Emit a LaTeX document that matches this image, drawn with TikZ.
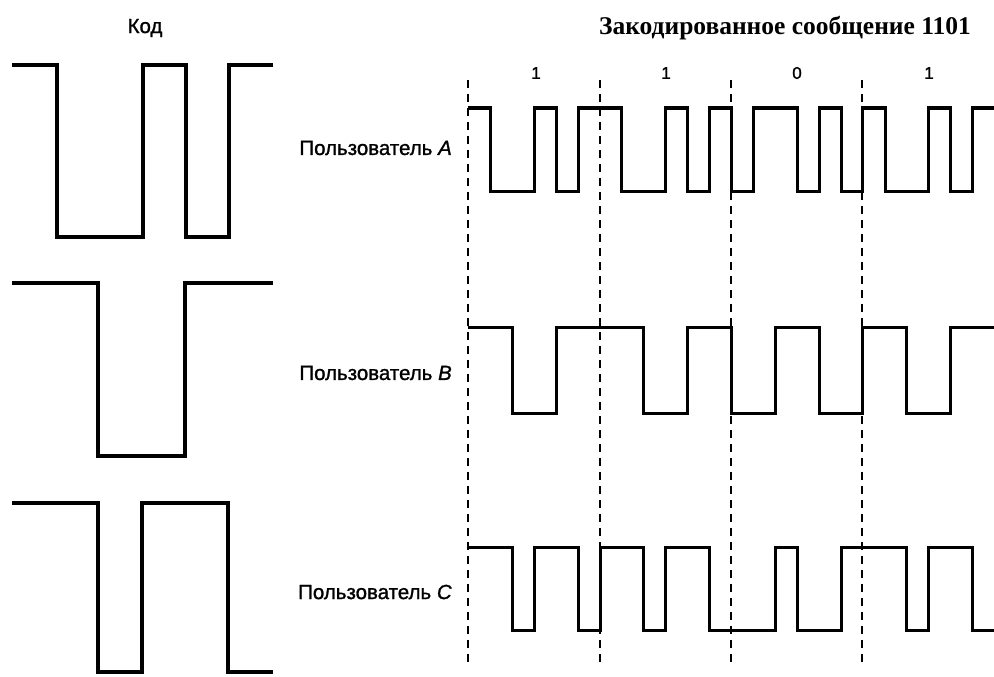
\documentclass[tikz,border=0pt]{standalone}
\usepackage{fontspec}
\setmainfont{Liberation Serif}
\newfontfamily\labfont[FakeBold=1.2]{Liberation Sans}
\begin{document}
\begin{tikzpicture}[x=1pt,y=-1pt,
  wave/.style={line width=3pt, line join=miter},
  codewave/.style={line width=3.4pt, line join=miter},
  sep/.style={line width=2pt, dash pattern=on 8pt off 6pt},
  lbl/.style={font=\labfont\fontsize{20.5}{24}\selectfont, inner sep=0pt},
  bitlbl/.style={font=\labfont\fontsize{17}{20}\selectfont, inner sep=0pt},
  ttl/.style={font=\bfseries\fontsize{25.5}{28}\selectfont, inner sep=0pt}]
\useasboundingbox (0,0) rectangle (994,677);
% titles
\node[lbl] (kod) at (145,28) {Код};
\node[ttl] (title) at (785,28) {Закодированное сообщение 1101};
% bit labels
\node[bitlbl] (bit1) at (536,73) {1};
\node[bitlbl] (bit2) at (666,73) {1};
\node[bitlbl] (bit3) at (797,73) {0};
\node[bitlbl] (bit4) at (929,73) {1};
% user labels
\node[lbl, anchor=east] (lblA) at (452,148) {Пользователь \textit{A}};
\node[lbl, anchor=east] (lblB) at (452,373) {Пользователь \textit{B}};
\node[lbl, anchor=east] (lblC) at (452,592) {Пользователь \textit{C}};
% codes
\draw[codewave] (12,65) -- (57,65) -- (57,237) -- (143,237) -- (143,65) -- (186,65) -- (186,237) -- (229,237) -- (229,65) -- (273,65);
\draw[codewave] (12,283) -- (98,283) -- (98,456) -- (185,456) -- (185,283) -- (273,283);
\draw[codewave] (12,503) -- (98,503) -- (98,672) -- (142,672) -- (142,503) -- (228,503) -- (228,672) -- (273,672);
% bit separators
\foreach \xx in {468,600,731,862}
  \draw[sep] (\xx,80) -- (\xx,665);
% user A
\draw[wave] (468,108) -- (490,108) -- (490,191) -- (534,191) -- (534,108) -- (556,108) -- (556,191) -- (578,191) -- (578,108) -- (621,108) -- (621,191) -- (665,191) -- (665,108) -- (687,108) -- (687,191) -- (709,191) -- (709,108) -- (731,108) -- (731,191) -- (753,191) -- (753,108) -- (797,108) -- (797,191) -- (819,191) -- (819,108) -- (841,108) -- (841,191) -- (862,191) -- (862,108) -- (885,108) -- (885,191) -- (928,191) -- (928,108) -- (950,108) -- (950,191) -- (972,191) -- (972,108) -- (994,108);
% user B
\draw[wave] (468,327) -- (512,327) -- (512,413) -- (556,413) -- (556,327) -- (643,327) -- (643,413) -- (687,413) -- (687,327) -- (731,327) -- (731,413) -- (775,413) -- (775,327) -- (819,327) -- (819,413) -- (862,413) -- (862,327) -- (906,327) -- (906,413) -- (950,413) -- (950,327) -- (994,327);
% user C
\draw[wave] (468,547) -- (512,547) -- (512,630) -- (534,630) -- (534,547) -- (578,547) -- (578,630) -- (600,630) -- (600,547) -- (643,547) -- (643,630) -- (665,630) -- (665,547) -- (709,547) -- (709,630) -- (775,630) -- (775,547) -- (797,547) -- (797,630) -- (841,630) -- (841,547) -- (906,547) -- (906,630) -- (928,630) -- (928,547) -- (972,547) -- (972,630) -- (994,630);
\end{tikzpicture}
\end{document}
